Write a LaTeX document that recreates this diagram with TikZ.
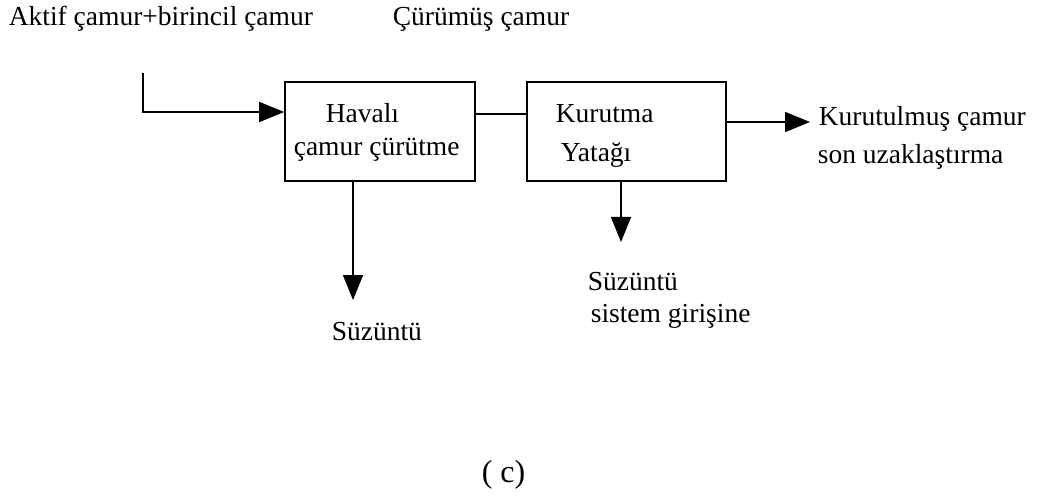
\documentclass[tikz,border=0pt]{standalone}
\usepackage{fontspec}
\setmainfont{Liberation Serif}
\usetikzlibrary{arrows.meta}

\begin{document}
\begin{tikzpicture}[
  x=1pt,y=-1pt,
  line width=1.6pt,
  txt/.style={anchor=base west,inner sep=0pt,font=\fontsize{27.5}{32}\selectfont},
  box/.style={draw,minimum width=#1,minimum height=99pt,inner sep=0pt},
  flow/.style={-{Triangle[length=25pt,width=20pt]}}
  ]
\useasboundingbox (0,0) rectangle (1057,497);
% boxes
\node[box=190pt] (B1) at (380,131.5){};
\node[box=199pt] (B2) at (626.5,131.5){};
% texts
\node[txt] (Tin) at (8,26) {Aktif çamur+birincil çamur};
\node[txt] (Tdig) at (392,26) {Çürümüş çamur};
\node[txt] (T1a) at (325,123) {Havalı};
\node[txt] (T1b) at (293,156) {çamur çürütme};
\node[txt] (T2a) at (555,123) {Kurutma};
\node[txt] (T2b) at (560,162) {Yatağı};
\node[txt] (Tout1) at (818,126) {Kurutulmuş çamur};
\node[txt] (Tout2) at (817,164) {son uzaklaştırma};
\node[txt] (S1) at (331,340) {Süzüntü};
\node[txt] (S2a) at (587,290) {Süzüntü};
\node[txt] (S2b) at (590,322) {sistem girişine};
\node[anchor=base west,inner sep=0pt,font=\fontsize{32}{36}\selectfont] (cap) at (481,482) {( c)};
% connectors
\coordinate (in) at (143,73);
\coordinate (out) at (810,122);
\coordinate (d1) at (353,300);
\coordinate (d2) at (621,242);
\draw[flow] (in) |- (B1.west |- 0,112);
\draw (B1.east |- 0,114) -- (B2.west |- 0,114);
\draw[flow] (B2.east |- out) -- (out);
\draw[flow] (B1.south -| d1) -- (d1);
\draw[flow] (B2.south -| d2) -- (d2);
\end{tikzpicture}
\end{document}
